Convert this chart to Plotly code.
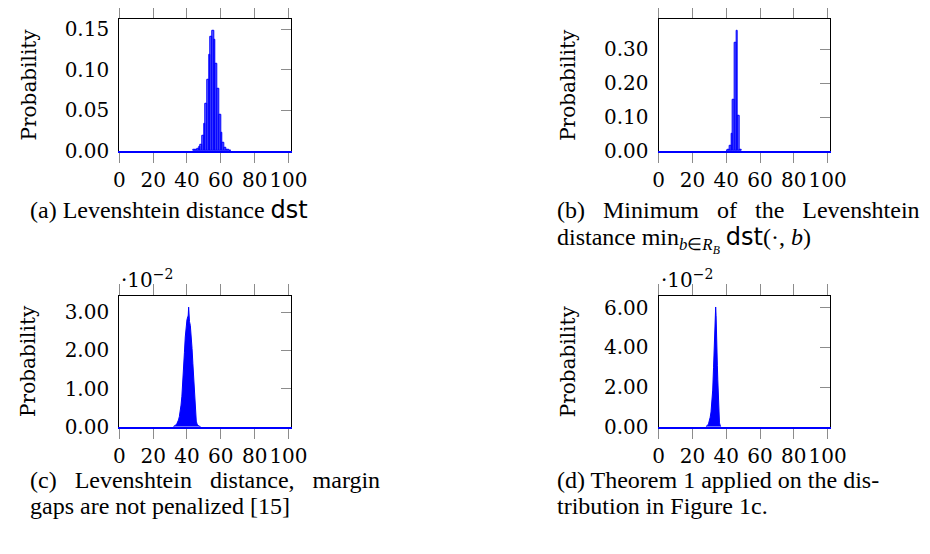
import plotly.graph_objects as go

# (a) Levenshtein distance: histogram, one bar per integer distance
a_dist = [44, 45, 46, 47, 48, 49, 50, 51, 52, 53, 54, 55, 56, 57, 58, 59, 60, 61, 62, 63, 64, 65]
a_prob = [0.001, 0.002, 0.003, 0.005, 0.008, 0.019, 0.034, 0.058, 0.088, 0.119, 0.141,
          0.148, 0.137, 0.108, 0.077, 0.045, 0.023, 0.010, 0.004, 0.002, 0.001, 0.0005]

# (b) minimum of the Levenshtein distance
b_dist = [40, 41, 42, 43, 44, 45, 46, 47, 48]
b_prob = [0.001, 0.003, 0.015, 0.051, 0.151, 0.319, 0.354, 0.105, 0.004]

# (c) margin gaps not penalized (fine bins)
c_dist = [32, 32.5, 33, 33.5, 34, 34.5, 35, 35.5, 36, 36.5, 37, 37.5, 38, 38.5, 39, 39.5,
          40, 40.5, 40.75, 41, 41.25, 41.5, 42, 42.5, 43, 43.5, 44, 44.5, 45, 45.5, 46,
          46.5, 47, 48]
c_prob = [0.0001, 0.0002, 0.0003, 0.0005, 0.0008, 0.0012, 0.0018, 0.0027, 0.0040, 0.0057,
          0.0080, 0.0110, 0.0150, 0.0195, 0.0235, 0.0262, 0.0280, 0.0288, 0.0292, 0.0313,
          0.0282, 0.0275, 0.0265, 0.0240, 0.0205, 0.0165, 0.0118, 0.0070, 0.0035, 0.0015,
          0.0007, 0.0004, 0.0002, 0.0001]

# (d) Theorem 1 applied on (c)
d_dist = [28, 28.5, 29, 29.5, 30, 30.5, 31, 31.5, 32, 32.5, 33, 33.25, 33.5, 33.75, 34,
          34.25, 34.5, 34.75, 35, 35.5, 36, 36.5, 37]
d_prob = [0.0002, 0.0004, 0.0008, 0.0015, 0.0028, 0.0048, 0.0075, 0.0120, 0.0185, 0.0300,
          0.0440, 0.0520, 0.0575, 0.0603, 0.0560, 0.0400, 0.0330, 0.0310, 0.0240, 0.0080,
          0.0020, 0.0005, 0.0001]

x_ticks = [0, 20, 40, 60, 80, 100]
a_ticks = [0, 0.05, 0.10, 0.15]
b_ticks = [0, 0.10, 0.20, 0.30]
c_ticks = [0, 0.01, 0.02, 0.03]
d_ticks = [0, 0.02, 0.04, 0.06]

# the page body has an 8px margin, so the figure is shrunk to fit the window
OFF = 8
W, H = 930 - 2 * OFF, 554 - 2 * OFF
SERIF = "DejaVu Serif"
CAP = "Liberation Serif"
GREY = "#8c8c8c"


def fx(x):
    return (x - OFF) / W


def fy(y):
    return 1 - (y - OFF) / H


panels = [
    dict(x=a_dist, y=a_prob, bars=True, box=(116, 292, 17, 152.7), yr=0.163,
         yt=a_ticks, ytext=["0.00", "0.05", "0.10", "0.15"], exp=False),
    dict(x=b_dist, y=b_prob, bars=True, box=(669.3, 845, 17, 152.7), yr=0.39,
         yt=b_ticks, ytext=["0.00", "0.10", "0.20", "0.30"], exp=False),
    dict(x=c_dist, y=c_prob, bars=False, box=(116, 292, 301.3, 436), yr=0.0343,
         yt=c_ticks, ytext=["0.00", "1.00", "2.00", "3.00"], exp=True),
    dict(x=d_dist, y=d_prob, bars=False, box=(669.3, 845, 301.3, 436), yr=0.066,
         yt=d_ticks, ytext=["0.00", "2.00", "4.00", "6.00"], exp=True),
]

fig = go.Figure()
lay = {}
annos = []
for i, p in enumerate(panels, 1):
    sx = "" if i == 1 else str(i)
    xa, ya = "x" + sx, "y" + sx
    xo, yo = "x" + str(i + 4), "y" + str(i + 4)
    x0, x1, y0, y1 = p["box"]
    if p["bars"]:
        fig.add_trace(go.Bar(
            x=p["x"], y=p["y"], xaxis=xa, yaxis=ya, offset=0, width=1,
            marker=dict(color="rgba(0,0,255,0.6)", line=dict(color="blue", width=1)),
            showlegend=False,
        ))
    else:
        fig.add_trace(go.Scatter(
            x=p["x"], y=p["y"], xaxis=xa, yaxis=ya, mode="lines",
            fill="tozeroy", fillcolor="blue", line=dict(color="blue", width=1),
            showlegend=False,
        ))
    # invisible copy so the mirrored frame axes get drawn
    fig.add_trace(go.Scatter(
        x=p["x"], y=p["y"], xaxis=xo, yaxis=yo, mode="lines",
        line=dict(width=0), opacity=0, hoverinfo="skip", showlegend=False,
    ))
    font = dict(family=SERIF, size=20, color="black")
    xdom = [fx(x0), fx(x1)]
    ydom = [fy(y1), fy(y0)]
    lay["xaxis" + sx] = dict(
        domain=xdom, anchor=ya, range=[0, 101.4],
        tickvals=x_ticks, ticktext=[str(t) for t in x_ticks], tickangle=0,
        ticks="outside", ticklen=10, tickcolor=GREY, tickwidth=1,
        ticklabelstandoff=0, showline=True, linecolor="blue", linewidth=1.5,
        showgrid=False, zeroline=False, tickfont=font,
    )
    lay["yaxis" + sx] = dict(
        domain=ydom, anchor=xa, range=[0, p["yr"]],
        tickvals=p["yt"], ticktext=p["ytext"], ticks="",
        ticklabelstandoff=5, showline=True, linecolor="black", linewidth=1.2,
        showgrid=False, zeroline=False, tickfont=font,
    )
    # top ticks outside and right ticks inside, pgfplots style
    lay["xaxis" + str(i + 4)] = dict(
        overlaying=xa, anchor=yo, side="top", range=[0, 101.4],
        tickvals=x_ticks, showticklabels=False, ticks="outside", ticklen=11,
        tickcolor=GREY, tickwidth=1, showline=True, linecolor="black",
        linewidth=1.2, showgrid=False, zeroline=False,
    )
    lay["yaxis" + str(i + 4)] = dict(
        overlaying=ya, anchor=xo, side="right", range=[0, p["yr"]],
        tickvals=p["yt"], showticklabels=False, ticks="inside", ticklen=10,
        tickcolor=GREY, tickwidth=1, showline=True, linecolor="black",
        linewidth=1.2, showgrid=False, zeroline=False,
    )
    annos.append(dict(
        text="Probability", textangle=-90, xref="paper", yref="paper",
        x=fx(x0 - 93), y=fy((y0 + y1) / 2), xanchor="center", yanchor="middle",
        showarrow=False, font=dict(family=SERIF, size=20, color="black"),
    ))
    if p["exp"]:
        annos.append(dict(
            text="·10<sup>−2</sup>", xref="paper", yref="paper",
            x=fx(x0), y=fy(y0 - 2), xanchor="left", yanchor="bottom",
            showarrow=False, font=dict(family=SERIF, size=20, color="black"),
        ))

sans = '<span style="font-family:DejaVu Sans">dst</span>'
sp3 = "\u00a0" * 3
captions = [
    ("(a) Levenshtein distance " + sans, 22, 213, 0),
    ("(b)" + sp3 + "Minimum" + sp3 + "of" + sp3 + "the" + sp3 + "Levenshtein", 563, 213, 0),
    ("distance min<sub><i>b</i>∈<i>R<sub>B</sub></i></sub> " + sans + "(·, <i>b</i>)", 563, 239, -5),
    ("(c)" + sp3 + "Levenshtein" + sp3 + "distance," + sp3 + "margin", 22, 491, 0),
    ("gaps are not penalized [15]", 22, 517, 0),
    ("(d) Theorem 1 applied on the dis-", 563, 491, 0),
    ("tribution in Figure 1c.", 563, 517, 0),
]
for text, cx, cy, dy in captions:
    annos.append(dict(
        text=text, xref="paper", yref="paper", x=fx(cx), y=fy(cy), yshift=dy,
        xanchor="left", yanchor="middle", showarrow=False,
        font=dict(family=CAP, size=24, color="black"),
    ))

fig.update_layout(
    width=W, height=H, margin=dict(l=0, r=0, t=0, b=0),
    paper_bgcolor="white", plot_bgcolor="white", bargap=0,
    annotations=annos, **lay,
)
fig.write_html("out.html", config={"displayModeBar": False})
